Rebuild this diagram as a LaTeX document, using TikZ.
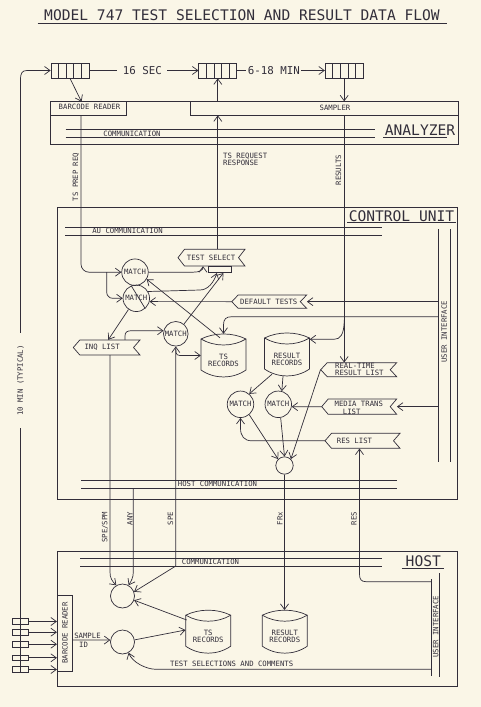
\documentclass[tikz,border=0pt]{standalone}
\usepackage{fontspec}
\newfontfamily\cadfont{DejaVu Sans Mono}
\usetikzlibrary{arrows.meta,calc}
\definecolor{paper}{RGB}{250,246,231}
\definecolor{ink}{RGB}{50,46,58}
\tikzset{
  ln/.style={draw=ink, line width=0.7pt},
  arr/.style={ln, ->},
  arrb/.style={ln, <->},
  lbl/.style={font=\cadfont\fontsize{7.3}{6.8}\selectfont, text=ink, inner sep=0pt},
  big/.style={font=\cadfont\fontsize{14.6}{15}\selectfont, text=ink, inner sep=0pt},
  mid/.style={font=\cadfont\fontsize{10.8}{11}\selectfont, text=ink, inner sep=0pt},
  matchc/.style={circle, ln, minimum size=26.5pt, lbl},
  hcirc/.style={circle, ln, minimum size=24pt, inner sep=0pt},
  box/.style={rectangle, ln, inner sep=0pt},
  queue/.style={box, minimum width=38pt, minimum height=15pt,
    path picture={\foreach \k in {1,2,3,4}{\draw[ln] ([xshift=\k*7.6pt]path picture bounding box.south west) -- ([xshift=\k*7.6pt]path picture bounding box.north west);}}},
  hq/.style={box, minimum width=15.6pt, minimum height=5.5pt},
}
\newcommand{\myflag}[5]{%
  \draw[ln] (#2,{(#3+#5)/2}) -- ({#2+6.5},#3) -- (#4,#3) -- ({#4-6.5},{(#3+#5)/2}) -- (#4,#5) -- ({#2+6.5},#5) -- cycle;
  \node[inner sep=0pt, minimum width={#4-#2}, minimum height={#5-#3}] (#1) at ({(#2+#4)/2},{(#3+#5)/2}) {};}
\newcommand{\mydrum}[4]{%
  \node[inner sep=0pt, minimum width=45pt, minimum height=43pt] (#1) at (#2,#3) {};
  \begin{scope}[shift={(#2,#3)}]
    \draw[ln] (-22.5,-16.5) .. controls (-9,-23.2) and (9,-23.2) .. (22.5,-16.5) -- (22.5,14.5) .. controls (9,23.8) and (-9,23.8) .. (-22.5,14.5) -- cycle;
    \draw[ln] (-22.5,-16.5) .. controls (-9,-8.5) and (9,-8.5) .. (22.5,-16.5);
    \node[lbl, align=center] at (0,4.5) {#4};
  \end{scope}}
\begin{document}
\begin{tikzpicture}[x=1pt, y=-1pt, >={Straight Barb[length=5.5pt,width=8pt]}]
\fill[paper] (0,0) rectangle (481,707);
\useasboundingbox (0,0) rectangle (481,707);

% title
\node[big] (title) at (242,15.3) {MODEL 747 TEST SELECTION AND RESULT DATA FLOW};
\draw[ln] (37.7,23.3) -- (446.7,23.3);

% queues
\node[queue] (q1) at (70,70.5) {};
\node[queue] (q2) at (217.8,70.5) {};
\node[queue] (q3) at (344.2,70.5) {};
\draw[arr] (q1.east) -- node[mid, fill=paper, inner xsep=5.5pt, pos=0.487] {16 SEC} (q2.west);
\draw[arr] (q2.east) -- node[mid, fill=paper, inner xsep=1.5pt, pos=0.42] {6-18 MIN} (q3.west);

% analyzer
\node[box, minimum width=407.3pt, minimum height=42.3pt] (analyzer) at (254.35,122.85) {};
\node[box, minimum width=76pt, minimum height=13.3pt] (abcr) at (88.7,108.35) {};
\node[lbl] at (89.5,106.8) {BARCODE READER};
\node[box, minimum width=267.3pt, minimum height=13.3pt] (sampler) at (324.35,108.35) {};
\node[lbl] at (335,107.8) {SAMPLER};
\draw[ln] (65.7,129.5) -- (375,129.5);
\draw[ln] (65.7,137.5) -- (375,137.5);
\node[lbl] at (132,133.5) {COMMUNICATION};
\node[big] at (420,130) {ANALYZER};
\draw[ln] (383,137.5) -- (447,137.5);

\draw[arr] (q1.south) -- (81.5,101.7);
\draw[arr] (q3.south) -- (q3.south |- sampler.north);
\draw[arr] (q2.south |- sampler.north) -- (q2.south);

% control unit
\node[box, minimum width=400pt, minimum height=291.3pt] (cu) at (257.5,353.35) {};
\node[big] at (401.5,216) {CONTROL UNIT};
\draw[ln] (347,222.7) -- (456,222.7);
\draw[ln] (65,227.3) -- (381.7,227.3);
\draw[ln] (65,235) -- (381.7,235);
\node[lbl] at (127.5,231.2) {AU COMMUNICATION};
\draw[ln] (81,480) -- (396.7,480);
\draw[ln] (81,488.3) -- (396.7,488.3);
\node[lbl] at (217.5,484.2) {HOST COMMUNICATION};
\coordinate (ui1) at (438.3,0);
\draw[ln] (438.3,229.3) -- (438.3,461.7);
\draw[ln] (450,229.3) -- (450,461.7);
\node[lbl, rotate=90] at (444.2,331.7) {USER INTERFACE};

% flags
\myflag{ts}{178}{249.3}{245}{266}
\node[lbl, anchor=west] at (186.7,257.7) {TEST SELECT};
\node[box, minimum width=23.7pt, minimum height=6.7pt] (tsb) at (219.85,269.35) {};
\myflag{dt}{231.7}{295}{306.7}{308.3}
\node[lbl, anchor=west] at (240,301.7) {DEFAULT TESTS};
\myflag{inq}{73.3}{340}{140}{355}
\node[lbl, anchor=west] at (84.3,347.5) {INQ LIST};
\myflag{rtl}{320.7}{362.7}{396.7}{376.7}
\node[lbl, anchor=west, align=left] at (335,369.7) {REAL-TIME\\RESULT LIST};
\myflag{mtl}{321.7}{399}{396.7}{414.3}
\node[lbl] at (358.8,404) {MEDIA TRANS};
\node[lbl] at (351.7,411.5) {LIST};
\myflag{rsl}{325}{433.3}{400}{448.3}
\node[lbl, anchor=west] at (336.7,440.8) {RES LIST};

% circles
\node[matchc] (m1) at (135,272.2) {MATCH};
\node[matchc] (m2) at (136.3,298.3) {MATCH};
\draw[ln] (m2.112) -- (m2.-49);
\node[matchc, minimum size=24.6pt] (m3) at (175.8,333.8) {MATCH};
\node[matchc] (ma) at (240.5,404.3) {MATCH};
\node[matchc] (mb) at (278.3,404.3) {MATCH};
\node[circle, ln, minimum size=17.4pt, inner sep=0pt] (sc) at (284.5,465.5) {};

% drums
\mydrum{tsr}{223.5}{355.5}{TS\\RECORDS}
\mydrum{rrr}{287}{354.5}{RESULT\\RECORDS}

% analyzer <-> control
\draw[arr, rounded corners=8] ([xshift=-7.7pt]abcr.south) -- (81,272.2) -- (m1.west);
\draw[arr, rounded corners=6] (106.7,272.2) -- (106.7,298.3) -- (m2.west);
\node[lbl, rotate=90] at (76,177) {TS PREP REQ};
\draw[arr] (ts.north -| q2.south) -- (q2.south |- sampler.south);
\node[lbl, align=left, anchor=north west] at (223,153) {TS REQUEST\\RESPONSE};
\draw[arr] (q3.south |- sampler.south) -- (q3.south |- rtl.north);
\node[lbl, rotate=90] at (338.5,170) {RESULTS};

% control unit flows
\draw[arr] (m1.east) -- (193,272.2) .. controls (200,272.2) and (203,270) .. ([xshift=-8.5pt]ts.south);
\draw[arr] (m2.30) -- (200,290) .. controls (208,290) and (214,282) .. ([xshift=-3pt]tsb.south);
\draw[arr] (dt.east -| ui1) -- (dt.east);
\draw[arr] (dt.west) -- (m2.-14);
\draw[arr] (m2.235) -- ([xshift=1.6pt]inq.north);
\draw[arr] ([xshift=18.35pt]inq.north) -- (125,336) .. controls (125,332) and (127,330.7) .. (132,330.7) -- (m3.166);
\draw[arr] (m3.50) -- ([xshift=3.5pt]tsb.south);
\draw[arr] ([xshift=-3.5pt,yshift=-4pt]tsr.north) -- (m1.-31);
\draw[arr] (ui1 |- 0,316.7) -- (232,316.7) .. controls (226,316.7) and (223.5,319) .. (223.5,325) -- (tsr.north);
\draw[arr] (344.2,320) .. controls (344.2,335) and (340,339.3) .. (334,339.3) -- ([yshift=15.2pt]rrr.east);
\draw[arr] (mtl.east -| ui1) -- (mtl.east);
\draw[arr] (mtl.west) -- (mb.-10);
\draw[arr] ([xshift=-15pt,yshift=2pt]rrr.south) -- (ma.50);
\draw[arr] ([xshift=-4pt]rrr.south) -- (mb.75);
\draw[arr] (rsl.west) -- (252,440.8) .. controls (244,440.8) and (240.5,436) .. (240.5,428) -- (ma.south);
\draw[arr] (ma.-50) -- (sc.135);
\draw[arr] (mb.-80) -- (sc.north);
\draw[arr] (rtl.west) -- (sc.45);

% host
\node[box, minimum width=400.3pt, minimum height=135pt] (host) at (257.15,619) {};
\node[big] at (423.3,561.3) {HOST};
\draw[ln] (401.7,568.3) -- (444,568.3);
\draw[ln] (80,558) -- (381.7,558);
\draw[ln] (80,566) -- (381.7,566);
\node[lbl] at (210.5,562) {COMMUNICATION};
\draw[ln] (431.7,579.3) -- (431.7,676);
\draw[ln] (439.5,573.3) -- (439.5,677.3);
\node[lbl, rotate=90] at (435.6,626.7) {USER INTERFACE};
\node[box, minimum width=15.4pt, minimum height=76pt] (hbcr) at (65,633) {};
\node[lbl, rotate=90] at (hbcr) {BARCODE READER};
\node[hcirc] (hc1) at (122.5,596) {};
\node[hcirc] (hc2) at (122.5,642) {};
\mydrum{htr}{208.2}{631.7}{TS\\RECORDS}
\mydrum{hrr}{284.8}{631.7}{RESULT\\RECORDS}

% control <-> host
\draw[arr] ([xshift=3.3pt]inq.south) -- (110,572) .. controls (110,578) and (112,581) .. (hc1.120);
\node[lbl, rotate=90, anchor=east] at (105,511.7) {SPE/SPM};
\draw[arr] (133.3,488.3) -- (133.3,572) .. controls (133.3,578) and (131,581) .. (hc1.60);
\node[lbl, rotate=90, anchor=east] at (130,511.7) {ANY};
\draw[arrb] (m3.south) -- (175.8,566) -- (hc1.20);
\node[lbl, rotate=90, anchor=east] at (170.5,511.7) {SPE};
\draw[arr] (175.8,349) .. controls (175.8,355.5) and (177,355.5) .. (183,355.5) -- (tsr.west);
\draw[arr] (sc.south) -- (sc.south |- hrr.north);
\node[lbl, rotate=90, anchor=east] at (280,511.7) {FRx};
\draw[arr] (431.7,581.7) -- (366,581.7) .. controls (361,581.7) and (359.5,579) .. (359.5,574) -- ([xshift=-3pt]rsl.south);
\node[lbl, rotate=90, anchor=east] at (354,511.7) {RES};

% host flows
\draw[arr] ([xshift=-21.5pt,yshift=11.7pt]htr.center) -- (hc1.-20);
\draw[arr] (hc2.10) -- ([yshift=1.7pt]htr.west);
\draw[arr] (hbcr.east |- 0,640) -- (hc2.171);
\node[lbl] at (87.5,636.3) {SAMPLE};
\node[lbl] at (83.5,644.8) {ID};
\draw[arr] (431.7,669.3) -- (156,669.3) .. controls (146,669.3) and (132,662) .. (hc2.-60);
\node[lbl] at (231.7,663.5) {TEST SELECTIONS AND COMMENTS};

% host queue and loop
\node[hq] (hqa) at (20.5,621.5) {};
\node[hq] (hqb) at (20.5,632.2) {};
\node[hq] (hqc) at (20.5,644.2) {};
\node[hq] (hqd) at (20.5,657.8) {};
\node[hq] (hqe) at (20.5,669.5) {};
\foreach \b in {hqa,hqb,hqc,hqd,hqe}{\draw[arr] (\b.east) -- (\b.east -| hbcr.west);}
\draw[arr] (hqe.south) -- node[lbl, pos=0.493, fill=paper, rotate=90, inner xsep=12pt, inner ysep=2pt] {10 MIN (TYPICAL)} (20.5,80) .. controls (20.5,73) and (22,70.5) .. (27,70.5) -- (q1.west);
\end{tikzpicture}
\end{document}
